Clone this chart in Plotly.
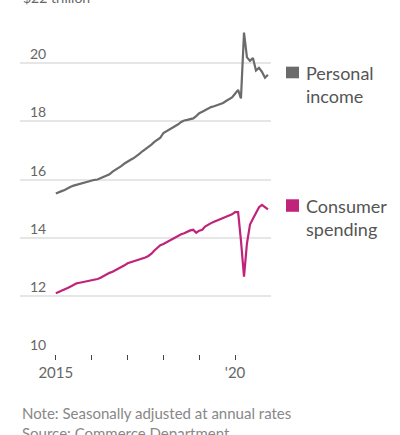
import pandas as pd
import plotly.graph_objects as go

# monthly, Jan 2015 - Dec 2020, $ trillion (seasonally adjusted annual rates)
months = pd.date_range("2015-01-01", "2020-12-01", freq="MS")

personal_income = [
    15.52, 15.55, 15.60, 15.64, 15.70, 15.75, 15.79, 15.82, 15.85, 15.88, 15.90, 15.93,
    15.97, 15.99, 16.00, 16.04, 16.08, 16.12, 16.18, 16.27, 16.33, 16.40, 16.47, 16.55,
    16.63, 16.68, 16.73, 16.80, 16.88, 16.97, 17.04, 17.12, 17.20, 17.29, 17.37, 17.44,
    17.60, 17.66, 17.72, 17.78, 17.83, 17.90, 17.98, 18.03, 18.05, 18.08, 18.10, 18.18,
    18.28, 18.33, 18.38, 18.45, 18.49, 18.52, 18.55, 18.58, 18.63, 18.70, 18.77, 18.82,
    18.95, 19.08, 18.79, 21.05, 20.20, 20.08, 20.18, 19.75, 19.84, 19.70, 19.50, 19.60,
]
consumer_spending = [
    12.09, 12.13, 12.18, 12.22, 12.27, 12.32, 12.38, 12.43, 12.45, 12.47, 12.50, 12.52,
    12.54, 12.56, 12.58, 12.62, 12.68, 12.74, 12.79, 12.83, 12.88, 12.93, 12.98, 13.05,
    13.12, 13.15, 13.18, 13.22, 13.24, 13.28, 13.32, 13.37, 13.45, 13.56, 13.66, 13.74,
    13.78, 13.84, 13.89, 13.95, 14.02, 14.08, 14.12, 14.15, 14.20, 14.25, 14.27, 14.17,
    14.24, 14.27, 14.38, 14.45, 14.50, 14.55, 14.60, 14.64, 14.68, 14.72, 14.76, 14.80,
    14.88, 14.88, 13.90, 12.66, 13.80, 14.45, 14.65, 14.85, 15.05, 15.13, 15.05, 14.97,
]

y_ticks = [10, 12, 14, 16, 18, 20, 22]
y_labels = ["10", "12", "14", "16", "18", "20", "$22 trillion"]
x_ticks = ["2015-01-01", "2016-01-01", "2017-01-01", "2018-01-01", "2019-01-01", "2020-01-01"]
x_labels = ["2015", "", "", "", "", "'20"]

GRAY = "#6b6b6b"
PINK = "#c0247a"
FONT = "Lato"

fig = go.Figure()
fig.add_trace(go.Scatter(x=months, y=personal_income, mode="lines",
                         line=dict(color=GRAY, width=2.2), hoverinfo="skip"))
fig.add_trace(go.Scatter(x=months, y=consumer_spending, mode="lines",
                         line=dict(color=PINK, width=2.2), hoverinfo="skip"))

# y labels sit above the gridlines
for v, lab in zip(y_ticks, y_labels):
    fig.add_annotation(x=0.032 if v != 22 else 0.004, xref="paper", y=v, yref="y",
                       text=lab, showarrow=False, xanchor="left", yanchor="bottom",
                       yshift=-3 if v == 22 else -1,
                       font=dict(family=FONT, size=14, color="#666"))

# legend squares + labels
fig.add_shape(type="rect", xref="paper", yref="y", x0=1.0598, x1=1.1116,
              y0=19.48, y1=19.88, fillcolor=GRAY, line_width=0)
fig.add_shape(type="rect", xref="paper", yref="y", x0=1.0598, x1=1.1116,
              y0=14.89, y1=15.32, fillcolor=PINK, line_width=0)
fig.add_annotation(x=1.13, xref="paper", y=20.12, yref="y", text="Personal<br>income",
                   showarrow=False, xanchor="left", yanchor="top", align="left",
                   font=dict(family=FONT, size=18, color="#555"))
fig.add_annotation(x=1.13, xref="paper", y=15.55, yref="y", text="Consumer<br>spending",
                   showarrow=False, xanchor="left", yanchor="top", align="left",
                   font=dict(family=FONT, size=18, color="#555"))

# footnotes
fig.add_annotation(x=0, xref="paper", y=-0.166, yref="paper",
                   text="Note: Seasonally adjusted at annual rates<br>Source: Commerce Department",
                   showarrow=False, xanchor="left", yanchor="top", align="left",
                   yshift=10, font=dict(family=FONT, size=15, color="#888"))

fig.update_layout(
    width=400, height=435,
    margin=dict(l=20, r=129, t=5, b=81),
    paper_bgcolor="white", plot_bgcolor="white",
    showlegend=False,
    font=dict(family=FONT, color="#666"),
    xaxis=dict(type="date", range=["2014-01-01", "2021-01-01"],
               tickvals=x_ticks, ticktext=x_labels,
               ticks="outside", ticklen=5, tickwidth=1, tickcolor="#444",
               showgrid=False, zeroline=False, showline=False,
               tickfont=dict(family=FONT, size=15, color="#666")),
    yaxis=dict(range=[10, 22], tickvals=y_ticks, showticklabels=False,
               showgrid=True, gridcolor="#e6e6e6", gridwidth=1.5,
               zeroline=False, showline=False, fixedrange=True),
)

# drop the browser's default body margin so the figure sits at the page corner
fig.write_html("out.html", config={"displayModeBar": False},
               post_script="document.body.style.margin='0';")
